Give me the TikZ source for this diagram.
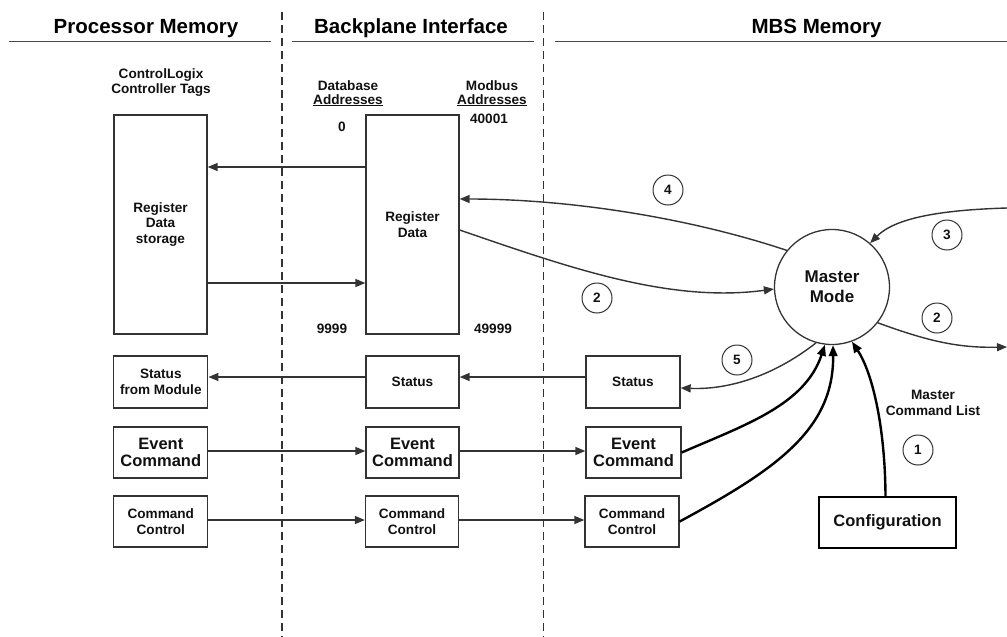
\documentclass[tikz,border=0pt]{standalone}
\usepackage{fontspec}
\setmainfont{Liberation Sans}
\usetikzlibrary{arrows.meta}
\newcommand\smallf{\fontsize{13.6}{15.5}\selectfont\bfseries}
\newcommand\evf{\fontsize{16.5}{17}\selectfont\bfseries}
\newcommand\hdrf{\fontsize{20.5}{22}\selectfont\bfseries}
\newcommand\mmf{\fontsize{17}{20}\selectfont\bfseries}
\definecolor{linec}{HTML}{333333}
\definecolor{txtc}{HTML}{111111}
\tikzset{
  bx/.style={draw=linec, line width=1.3pt, inner sep=0pt, align=center, font=\smallf, text=txtc},
  lbl/.style={draw=linec, circle, line width=1pt, minimum size=30pt, inner sep=0pt, font=\smallf, text=txtc},
  arr/.style={draw=linec, line width=1.4pt, -{Triangle[length=10pt,width=8pt]}},
  thk/.style={draw=black, line width=2.4pt, -{Triangle[length=11pt,width=8.5pt]}},
  hdr/.style={font=\hdrf, anchor=base, inner sep=0pt, text=black},
  txt/.style={font=\smallf, align=center, inner sep=0pt, text=txtc},
  sepline/.style={draw=linec, line width=1.4pt, dash pattern=on 8pt off 5pt},
  hline/.style={draw=linec!90, line width=1.6pt},
}
\begin{document}
\begin{tikzpicture}[x=1pt, y=-1pt]
\useasboundingbox (0,0) rectangle (1007,637);
% headers
\node[hdr] (h1) at (146,34) {Processor Memory};
\node[hdr] (h2) at (411,34) {Backplane Interface};
\node[hdr] (h3) at (816.5,34) {MBS Memory};
\draw[hline] (9,41.5) -- (271,41.5);
\draw[hline] (292,41.5) -- (534,41.5);
\draw[hline] (555,41.5) -- (1007,41.5);
\draw[sepline] (282,12) -- (282,637);
\draw[sepline] (543.5,12) -- (543.5,637);
% column labels
\node[txt] (tags) at (161,82.5) {ControlLogix\\Controller Tags};
\node[txt, font=\fontsize{13.6}{13.5}\selectfont\bfseries] (dba) at (348,93.5) {Database\\\underline{Addresses}};
\node[txt, font=\fontsize{13.6}{13.5}\selectfont\bfseries] (mba) at (492,93.5) {Modbus\\\underline{Addresses}};
\node[txt] (n0) at (342,127) {0};
\node[txt] (n40001) at (489,119) {40001};
\node[txt] (n9999) at (332,329) {9999};
\node[txt] (n49999) at (493,329) {49999};
% register boxes
\node[bx, minimum width=93pt, minimum height=219pt] (RDS) at (160.5,224.5) {Register\\Data\\storage};
\node[bx, minimum width=93pt, minimum height=219pt] (RD) at (412.5,224.5) {Register\\Data};
% status row
\node[bx, minimum width=94pt, minimum height=52pt] (StL) at (160.8,382) {Status\\from Module};
\node[bx, minimum width=93pt, minimum height=52pt] (StM) at (412.5,382) {Status};
\node[bx, minimum width=94pt, minimum height=52pt] (StR) at (633,382) {Status};
% event row
\node[bx, font=\evf, minimum width=94pt, minimum height=51pt] (EvL) at (160.8,452.5) {Event\\Command};
\node[bx, font=\evf, minimum width=93pt, minimum height=51pt] (EvM) at (412.5,452.5) {Event\\Command};
\node[bx, font=\evf, minimum width=95pt, minimum height=51pt] (EvR) at (633.5,452.5) {Event\\Command};
% command control row
\node[bx, minimum width=94pt, minimum height=51pt] (CcL) at (160.8,521.5) {Command\\Control};
\node[bx, minimum width=93pt, minimum height=51pt] (CcM) at (412,521.5) {Command\\Control};
\node[bx, minimum width=94pt, minimum height=51pt] (CcR) at (632,521.5) {Command\\Control};
% configuration
\node[bx, draw=black, line width=2.4pt, font=\fontsize{16.5}{17}\selectfont\bfseries, minimum width=137pt, minimum height=51pt] (Cfg) at (887.5,522.5) {Configuration};
% master mode
\node[draw=linec, circle, line width=1.3pt, minimum size=115pt, inner sep=0pt, align=center, font=\mmf, text=txtc] (MM) at (832,287) {Master\\Mode};
\node[txt] (mcl) at (933,403) {Master\\Command List};
% step labels
\node[lbl] (L4) at (668,190) {4};
\node[lbl] (L2a) at (597,298) {2};
\node[lbl] (L3) at (947,235) {3};
\node[lbl] (L2b) at (937,318) {2};
\node[lbl] (L5) at (737,360) {5};
\node[lbl] (L1) at (918,450) {1};
\coordinate (RE3) at (1007,208);
\coordinate (RE2) at (1007,347);
% straight arrows
\draw[arr] ([yshift=57.5pt]RD.west) -- ([yshift=57.5pt]RDS.east);
\draw[arr] ([yshift=-58.5pt]RDS.east) -- ([yshift=-58.5pt]RD.west);
\draw[arr] ([yshift=5pt]StR.west) -- ([yshift=5pt]StM.east);
\draw[arr] ([yshift=5pt]StM.west) -- ([yshift=5pt]StL.east);
\draw[arr] ([yshift=1.5pt]EvL.east) -- ([yshift=1.5pt]EvM.west);
\draw[arr] ([yshift=1.5pt]EvM.east) -- ([yshift=1.5pt]EvR.west);
\draw[arr] ([yshift=1.5pt]CcL.east) -- ([yshift=1.5pt]CcM.west);
\draw[arr] ([yshift=1.5pt]CcM.east) -- ([yshift=1.5pt]CcR.west);
% curved arrows
\draw[arr] (MM.141.8) .. controls (690,218) and (570,199) .. ([yshift=25.5pt]RD.east);
\draw[arr] ([yshift=-5.5pt]RD.east) .. controls (570,268) and (670,303) .. (MM.182);
\draw[arr] (RE3) .. controls (940,210) and (895,218) .. (MM.49.6);
\draw[arr] (MM.-38.4) .. controls (930,342) and (960,348) .. (RE2);
\draw[arr] (MM.254) .. controls (775,375) and (730,390) .. ([yshift=-6pt]StR.east);
% thick arrows
\draw[thk] (EvR.east) .. controls (745,425) and (805,405) .. (MM.263);
\draw[thk] (CcR.east) .. controls (775,470) and (834,430) .. (MM.271);
\draw[thk] ([xshift=-2pt]Cfg.north) .. controls (885,425) and (872,372) .. (MM.290);
\end{tikzpicture}
\end{document}
